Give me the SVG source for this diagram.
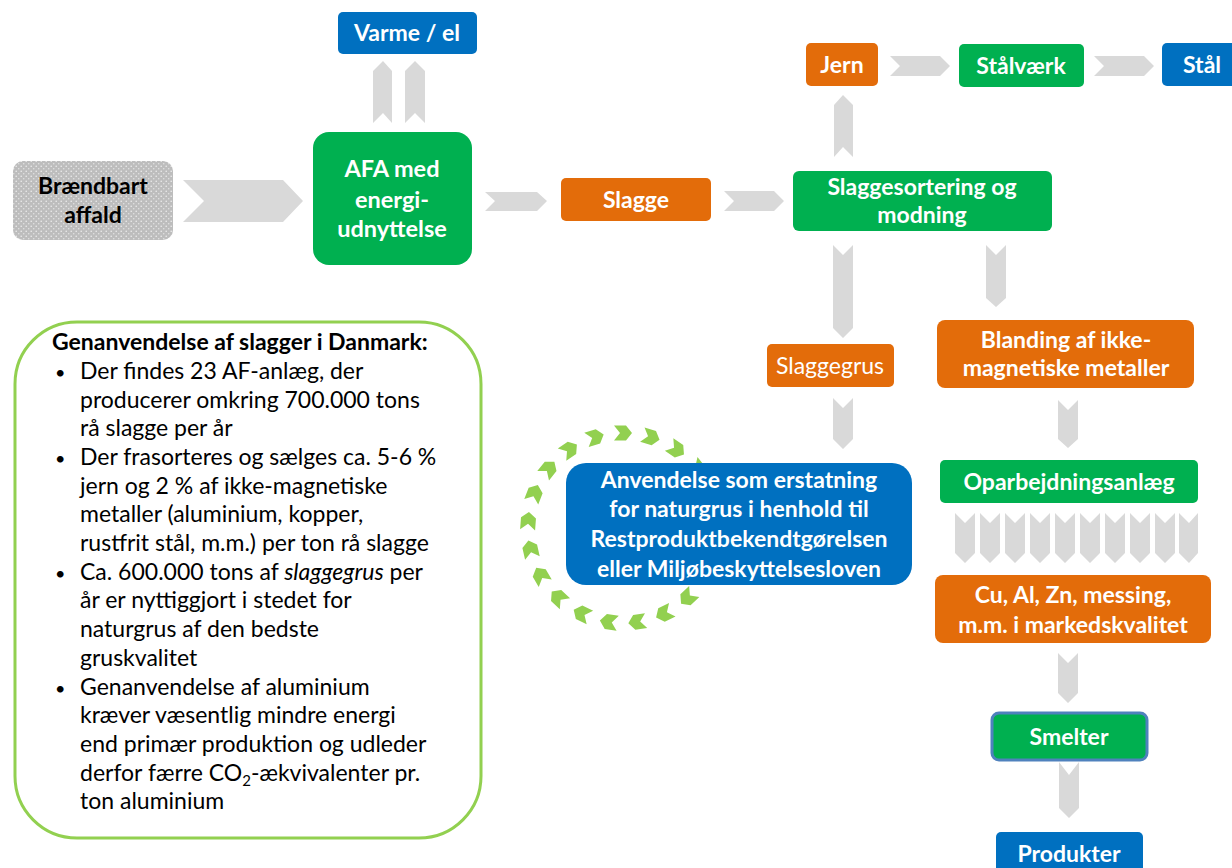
<svg xmlns="http://www.w3.org/2000/svg" xmlns:xlink="http://www.w3.org/1999/xlink" width="1232" height="868" viewBox="0 0 1232 868">
<style>
.t{font-family:Lato,"Open Sans","Liberation Sans",sans-serif;font-weight:bold;font-size:23px;fill:#fff;text-anchor:middle}
.g{fill:#00B050}.o{fill:#E36C0A}.b{fill:#0070C0}
.c{fill:#D9D9D9}
.info{font-family:Lato,"Open Sans","Liberation Sans",sans-serif;font-size:23px;fill:#000}
.gc{fill:#92D050}
</style>
<defs>
<pattern id="dots" width="5" height="5" patternUnits="userSpaceOnUse">
<rect width="5" height="5" fill="#BDBDBD"/>
<circle cx="1.2" cy="1.2" r="0.8" fill="#EFEFEF"/>
<circle cx="3.7" cy="3.7" r="0.8" fill="#E2E2E2"/>
</pattern>
<polygon id="gch" points="-9,-7.5 3,-7.5 9,0 3,7.5 -9,7.5 -3,0"/>
</defs>

<g id="connectors">
<polygon class="c" points="183,180 283,180 303,201 283,222 183,222 204,201"/>
<polygon class="c" points="485,192 537,192 547,201 537,211 485,211 495,201"/>
<polygon class="c" points="724,191 774,191 784,201 774,211 724,211 734,201"/>
<polygon class="c" points="890,56 940,56 950,66 940,76 890,76 900,66"/>
<polygon class="c" points="1094,56 1144,56 1154,66 1144,76 1094,76 1104,66"/>
<polygon class="c" points="373,123 373,71 383,61 392,71 392,123 383,113"/>
<polygon class="c" points="405,123 405,71 415,61 425,71 425,123 415,113"/>
<polygon class="c" points="834,157 834,105 843,95 853,105 853,157 843,147"/>
<polygon class="c" points="833,245 843,255 853,245 853,328 843,338 833,328"/>
<polygon class="c" points="986,245 996,255 1006,245 1006,298 996,307 986,298"/>
<polygon class="c" points="833,398 843,408 853,398 853,439 843,449 833,439"/>
<polygon class="c" points="1058,400 1068,410 1078,400 1078,439 1068,448 1058,439"/>
<polygon class="c" points="1058,653 1068,663 1078,653 1078,693 1068,703 1058,693"/>
<polygon class="c" points="1059,762 1069,775 1079,762 1079,808 1069,818 1059,808"/>
<g class="c">
<polygon points="955,513 965,523 975,513 975,553 965,563 955,553"/>
<polygon points="980,513 990,523 1000,513 1000,553 990,563 980,553"/>
<polygon points="1005,513 1015,523 1025,513 1025,553 1015,563 1005,553"/>
<polygon points="1030,513 1040,523 1050,513 1050,553 1040,563 1030,553"/>
<polygon points="1055,513 1065,523 1075,513 1075,553 1065,563 1055,553"/>
<polygon points="1080,513 1090,523 1100,513 1100,553 1090,563 1080,553"/>
<polygon points="1105,513 1115,523 1125,513 1125,553 1115,563 1105,553"/>
<polygon points="1130,513 1140,523 1150,513 1150,553 1140,563 1130,553"/>
<polygon points="1155,513 1165,523 1175,513 1175,553 1165,563 1155,553"/>
<polygon points="1179,513 1189,523 1198,513 1198,553 1189,563 1179,553"/>
</g>
</g>

<g id="ring" class="gc">
<use xlink:href="#gch" transform="translate(623 528) rotate(-90) translate(95 0) rotate(90)"/>
<use xlink:href="#gch" transform="translate(623 528) rotate(-72.9) translate(95 0) rotate(90)"/>
<use xlink:href="#gch" transform="translate(623 528) rotate(-55.7) translate(95 0) rotate(90)"/>
<use xlink:href="#gch" transform="translate(623 528) rotate(-38.6) translate(95 0) rotate(90)"/>
<use xlink:href="#gch" transform="translate(623 528) rotate(-21.4) translate(95 0) rotate(90)"/>
<use xlink:href="#gch" transform="translate(623 528) rotate(-4.3) translate(95 0) rotate(90)"/>
<use xlink:href="#gch" transform="translate(623 528) rotate(12.9) translate(95 0) rotate(90)"/>
<use xlink:href="#gch" transform="translate(623 528) rotate(30) translate(95 0) rotate(90)"/>
<use xlink:href="#gch" transform="translate(623 528) rotate(47.1) translate(95 0) rotate(90)"/>
<use xlink:href="#gch" transform="translate(623 528) rotate(64.3) translate(95 0) rotate(90)"/>
<use xlink:href="#gch" transform="translate(623 528) rotate(81.4) translate(95 0) rotate(90)"/>
<use xlink:href="#gch" transform="translate(623 528) rotate(98.6) translate(95 0) rotate(90)"/>
<use xlink:href="#gch" transform="translate(623 528) rotate(115.7) translate(95 0) rotate(90)"/>
<use xlink:href="#gch" transform="translate(623 528) rotate(132.9) translate(95 0) rotate(90)"/>
<use xlink:href="#gch" transform="translate(623 528) rotate(150) translate(95 0) rotate(90)"/>
<use xlink:href="#gch" transform="translate(623 528) rotate(167.1) translate(95 0) rotate(90)"/>
<use xlink:href="#gch" transform="translate(623 528) rotate(184.3) translate(95 0) rotate(90)"/>
<use xlink:href="#gch" transform="translate(623 528) rotate(201.4) translate(95 0) rotate(90)"/>
<use xlink:href="#gch" transform="translate(623 528) rotate(218.6) translate(95 0) rotate(90)"/>
<use xlink:href="#gch" transform="translate(623 528) rotate(235.7) translate(95 0) rotate(90)"/>
<use xlink:href="#gch" transform="translate(623 528) rotate(252.9) translate(95 0) rotate(90)"/>
</g>

<g id="varme"><rect class="b" x="338" y="12" width="139" height="42" rx="5"/><text class="t" x="407" y="41">Varme / el</text></g>
<g id="braendbart"><rect x="13" y="161" width="160" height="79" rx="10" fill="url(#dots)"/><text class="t" style="fill:#000" x="93" y="194">Brændbart</text><text class="t" style="fill:#000" x="93" y="223">affald</text></g>
<g id="afa"><rect class="g" x="313" y="132" width="159" height="133" rx="16"/><text class="t" x="392" y="177" style="font-size:23.5px">AFA med</text><text class="t" x="392" y="208" style="font-size:23.5px">energi-</text><text class="t" x="392" y="237" style="font-size:23.5px">udnyttelse</text></g>
<g id="slagge"><rect class="o" x="561" y="178" width="150" height="43" rx="5"/><text class="t" x="636" y="208">Slagge</text></g>
<g id="sortering"><rect class="g" x="793" y="171" width="259" height="60" rx="6"/><text class="t" x="922" y="195">Slaggesortering og</text><text class="t" x="922" y="223">modning</text></g>
<g id="jern"><rect class="o" x="806" y="43" width="72" height="43" rx="5"/><text class="t" x="842" y="73">Jern</text></g>
<g id="staalvaerk"><rect class="g" x="959" y="44" width="125" height="43" rx="5"/><text class="t" x="1021" y="74">Stålværk</text></g>
<g id="staal"><rect class="b" x="1162" y="43" width="90" height="43" rx="5"/><text class="t" x="1202" y="73">Stål</text></g>
<g id="slaggegrus"><rect class="o" x="767" y="344" width="127" height="43" rx="5"/><text class="t" x="830" y="374" style="font-weight:normal">Slaggegrus</text></g>
<g id="blanding"><rect class="o" x="937" y="320" width="257" height="68" rx="8"/><text class="t" x="1066" y="348">Blanding af ikke-</text><text class="t" x="1066" y="376">magnetiske metaller</text></g>
<g id="anvendelse"><rect class="b" x="566" y="463" width="346" height="122" rx="20"/>
<text class="t" x="739" y="488">Anvendelse som erstatning</text>
<text class="t" x="739" y="517">for naturgrus i henhold til</text>
<text class="t" x="739" y="547">Restproduktbekendtgørelsen</text>
<text class="t" x="739" y="577">eller Miljøbeskyttelsesloven</text></g>
<g id="oparbejdning"><rect class="g" x="940" y="460" width="258" height="43" rx="5"/><text class="t" x="1069" y="490">Oparbejdningsanlæg</text></g>
<g id="cu"><rect class="o" x="935" y="575" width="276" height="68" rx="8"/><text class="t" x="1073" y="603">Cu, Al, Zn, messing,</text><text class="t" x="1073" y="633">m.m. i markedskvalitet</text></g>
<g id="smelter"><rect class="g" x="992" y="713" width="155" height="47" rx="7" stroke="#4F81BD" stroke-width="3"/><text class="t" x="1069" y="745">Smelter</text></g>
<g id="produkter"><rect class="b" x="996" y="832" width="147" height="50" rx="5"/><text class="t" x="1069" y="862">Produkter</text></g>

<g id="info">
<rect x="15" y="322" width="466" height="516" rx="62" fill="#fff" stroke="#92D050" stroke-width="3"/>
<text class="info" x="52" y="350" font-weight="bold">Genanvendelse af slagger i Danmark:</text>
<g class="info">
<text x="55" y="379" font-size="18">•</text><text x="80" y="379">Der findes 23 AF-anlæg, der</text>
<text x="80" y="408">producerer omkring 700.000 tons</text>
<text x="80" y="436">rå slagge per år</text>
<text x="55" y="465" font-size="18">•</text><text x="80" y="465">Der frasorteres og sælges ca. 5-6 %</text>
<text x="80" y="494">jern og 2 % af ikke-magnetiske</text>
<text x="80" y="522">metaller (aluminium, kopper,</text>
<text x="80" y="551">rustfrit stål, m.m.) per ton rå slagge</text>
<text x="55" y="580" font-size="18">•</text><text x="80" y="580">Ca. 600.000 tons af <tspan font-style="italic">slaggegrus</tspan> per</text>
<text x="80" y="608">år er nyttiggjort i stedet for</text>
<text x="80" y="637">naturgrus af den bedste</text>
<text x="80" y="666">gruskvalitet</text>
<text x="55" y="695" font-size="18">•</text><text x="80" y="695">Genanvendelse af aluminium</text>
<text x="80" y="723">kræver væsentlig mindre energi</text>
<text x="80" y="752">end primær produktion og udleder</text>
<text x="80" y="781">derfor færre CO<tspan font-size="15" dy="5">2</tspan><tspan dy="-5">-ækvivalenter pr.</tspan></text>
<text x="80" y="809">ton aluminium</text>
</g>
</g>
</svg>
